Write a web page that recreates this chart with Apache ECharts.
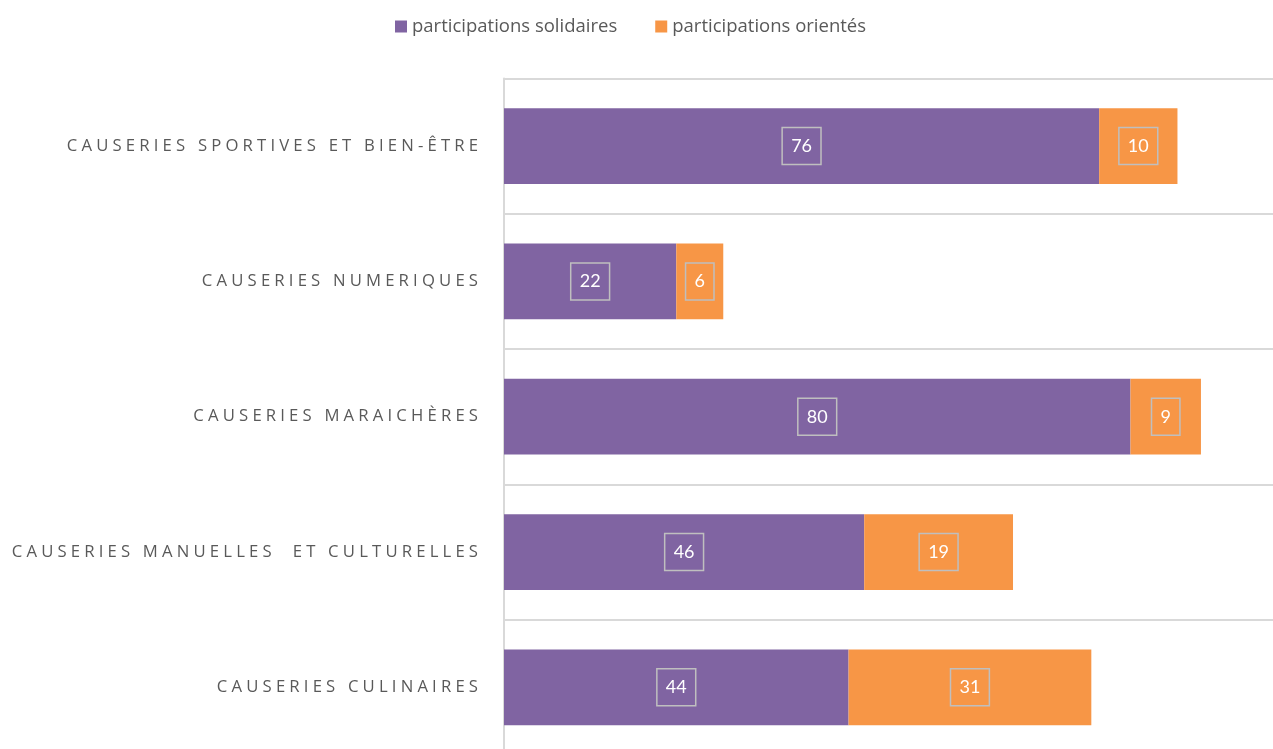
<!DOCTYPE html>
<html><head><meta charset="utf-8">
<script src="https://cdn.jsdelivr.net/npm/echarts@6/dist/echarts.min.js"></script>
<style>html,body{margin:0;padding:0;background:#fff;overflow:hidden}#c{width:1273px;height:755px}</style>
</head><body><div id="c"></div>
<script>
const categories = ["CAUSERIES SPORTIVES ET BIEN-ÊTRE","CAUSERIES NUMERIQUES","CAUSERIES MARAICHÈRES","CAUSERIES MANUELLES  ET CULTURELLES","CAUSERIES CULINAIRES"];
const solidaires = [76, 22, 80, 46, 44];
const orientes = [10, 6, 9, 19, 31];
const seriesNames = ["participations solidaires", "participations orientés"];

function spaced(s){ return s.split('').join('\u2005'); }

const labelStyle = {
  show: true, position: 'inside', color: '#ffffff', fontFamily: 'Lato', fontSize: 18,
  borderColor: '#bfbfbf', borderWidth: 1.5, padding: [9, 9, 8, 9], lineHeight: 20
};

const chart = echarts.init(document.getElementById('c'), null, {renderer: 'canvas'});
chart.setOption({
  animation: false,
  color: ['#8064A2', '#F79646'],
  legend: {
    top: 12, left: 390, itemWidth: 12, itemHeight: 12, itemGap: 38,
    icon: 'rect',
    textStyle: {color: '#595959', fontFamily: 'Open Sans', fontSize: 18.5}
  },
  grid: {left: 504, right: 0, top: 78.4, bottom: 0, containLabel: false},
  xAxis: {type: 'value', min: 0, max: 98.2, axisLabel: {show: false}, splitLine: {show: false}, axisLine: {show: false}, axisTick: {show: false}},
  yAxis: {
    type: 'category', inverse: true, data: categories,
    axisLine: {show: true, lineStyle: {color: '#d9d9d9', width: 2}},
    axisTick: {show: false},
    splitLine: {show: true, lineStyle: {color: '#d9d9d9', width: 2}},
    axisLabel: {margin: 26, color: '#595959', fontFamily: 'Open Sans', fontSize: 16.7, formatter: v => spaced(v)}
  },
  series: [
    {name: seriesNames[0], type: 'bar', stack: 't', data: solidaires, barCategoryGap: '44%', label: labelStyle},
    {name: seriesNames[1], type: 'bar', stack: 't', data: orientes, barCategoryGap: '44%', label: labelStyle}
  ]
});
</script></body></html>
